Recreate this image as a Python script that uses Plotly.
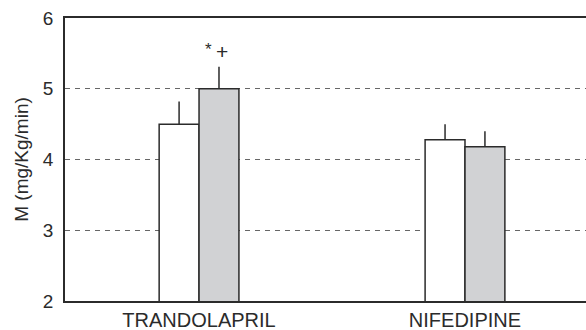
import plotly.graph_objects as go

categories = ["TRANDOLAPRIL", "NIFEDIPINE"]
before_values = [4.50, 4.28]
before_errors = [0.32, 0.22]
after_values = [5.00, 4.18]
after_errors = [0.31, 0.22]
y_ticks = [2, 3, 4, 5, 6]

FONT = "Liberation Sans, Arial, sans-serif"
DARK = "#2b2b2b"

fig = go.Figure()
fig.add_trace(go.Bar(
    x=categories, y=before_values,
    marker=dict(color="white", line=dict(color=DARK, width=1.5)),
    error_y=dict(type="data", symmetric=False, array=before_errors,
                 arrayminus=[0, 0], width=0, thickness=1.5, color=DARK),
    showlegend=False,
))
fig.add_trace(go.Bar(
    x=categories, y=after_values,
    marker=dict(color="#d1d2d4", line=dict(color=DARK, width=1.5)),
    error_y=dict(type="data", symmetric=False, array=after_errors,
                 arrayminus=[0, 0], width=0, thickness=1.5, color=DARK),
    showlegend=False,
))

fig.add_annotation(x=0.034, y=5.56, xref="x", yref="y", text="*", showarrow=False,
                   font=dict(family=FONT, size=17, color=DARK))
fig.add_annotation(x=0.086, y=5.53, xref="x", yref="y", text="+", showarrow=False,
                   font=dict(family=FONT, size=21, color=DARK))

fig.update_layout(
    width=586, height=330,
    margin=dict(l=65, r=0, t=18, b=29, autoexpand=False),
    paper_bgcolor="white", plot_bgcolor="white",
    barmode="group", bargap=0.7, bargroupgap=0,
    font=dict(family=FONT, color=DARK),
)
fig.update_xaxes(
    range=[-0.504, 1.455], showline=True, linecolor=DARK, linewidth=1.5,
    mirror=True, ticks="", showgrid=False, automargin=False,
    tickfont=dict(family=FONT, size=20, color=DARK),
)
fig.update_yaxes(
    range=[2, 6], tickvals=y_ticks, showline=True, linecolor=DARK, linewidth=1.5,
    mirror=False, ticks="outside", ticklen=6, tickcolor="rgba(0,0,0,0)",
    showgrid=True, gridcolor="#666666", gridwidth=1, griddash="5px,5px",
    zeroline=False, automargin=False,
    tickfont=dict(family=FONT, size=19, color=DARK),
    title=dict(text="M (mg/Kg/min)", font=dict(family=FONT, size=19, color=DARK), standoff=9),
)

fig.write_html("out.html", config={"displayModeBar": False},
               post_script="document.body.style.margin='0px';")
